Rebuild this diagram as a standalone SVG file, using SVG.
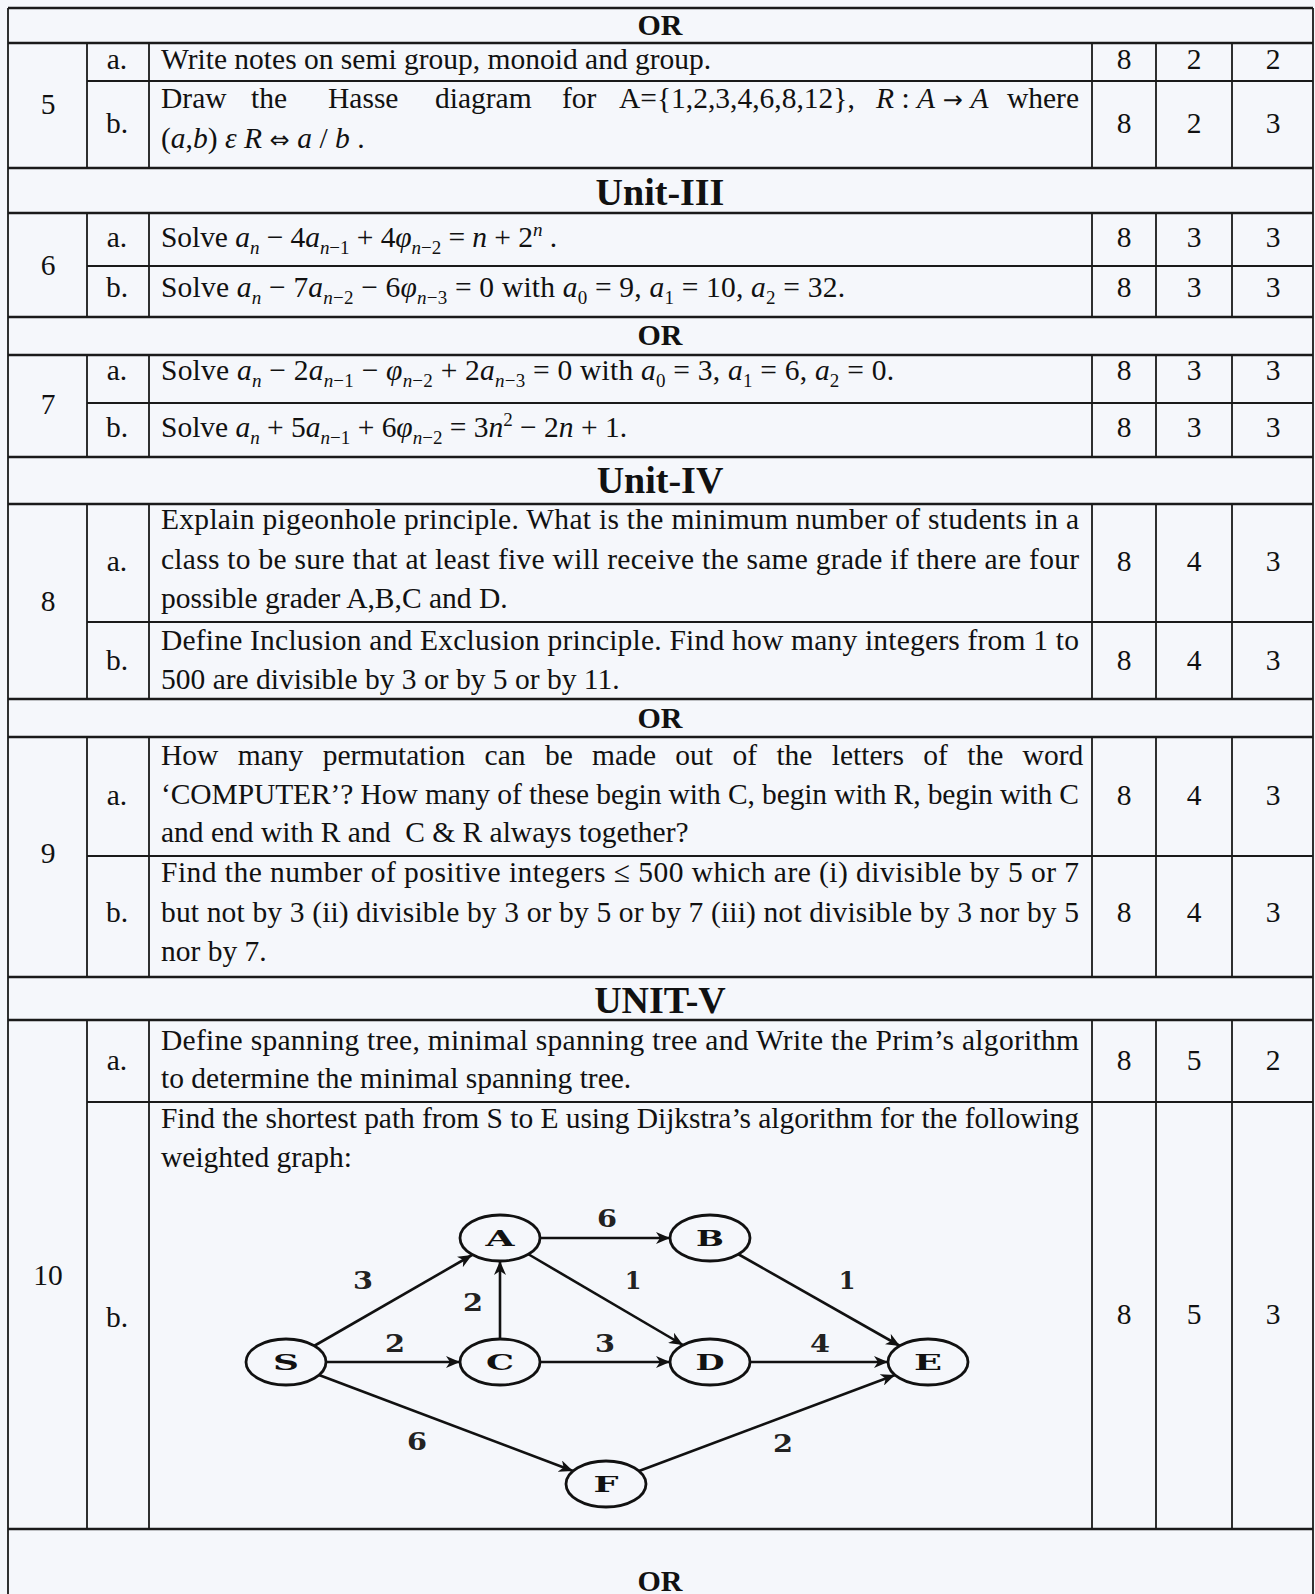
<svg xmlns="http://www.w3.org/2000/svg" width="1315" height="1594" viewBox="0 0 1315 1594">
<defs>
<style>
.t{font-family:"Liberation Serif","DejaVu Serif",serif;font-size:29.5px;fill:#111}
.i{font-style:italic}
.s{font-size:19px}
.ar{font-family:"DejaVu Sans",sans-serif;font-size:24px}
.c{text-anchor:middle}
.h{font-family:"Liberation Serif","DejaVu Serif",serif;font-weight:bold;font-size:38px;text-anchor:middle;fill:#111}
.or{font-family:"Liberation Serif","DejaVu Serif",serif;font-weight:bold;font-size:30px;text-anchor:middle;fill:#111}
.hl{stroke:#1a1a1a;stroke-width:2.6}
.pl{stroke:#1a1a1a;stroke-width:2.2}
.vl{stroke:#1a1a1a;stroke-width:1.8}
.nd{fill:none;stroke:#111;stroke-width:2.8}
.nl{font-family:"DejaVu Serif",serif;font-weight:bold;font-size:22px;text-anchor:middle;fill:#111}
.el{font-family:"DejaVu Serif",serif;font-weight:bold;font-size:24px;text-anchor:middle;fill:#222}
.e{stroke:#111;stroke-width:2.6;fill:none;marker-end:url(#arr)}
</style>
<marker id="arr" markerUnits="userSpaceOnUse" markerWidth="16" markerHeight="12" refX="14" refY="6" orient="auto">
<path d="M0,0 L14,6 L0,12 L4,6 Z" fill="#111"/>
</marker>
</defs>
<rect x="0" y="0" width="1315" height="1594" fill="#f5f7fb"/>

<g id="grid">
<line class="vl" x1="8" y1="8" x2="8" y2="1594"/>
<line class="vl" x1="1313" y1="8" x2="1313" y2="1594"/>
<line class="hl" x1="8" y1="8" x2="1313" y2="8"/>
<line class="hl" x1="8" y1="43" x2="1313" y2="43"/>
<line class="hl" x1="8" y1="168" x2="1313" y2="168"/>
<line class="hl" x1="8" y1="213" x2="1313" y2="213"/>
<line class="hl" x1="8" y1="317" x2="1313" y2="317"/>
<line class="hl" x1="8" y1="355" x2="1313" y2="355"/>
<line class="hl" x1="8" y1="457" x2="1313" y2="457"/>
<line class="hl" x1="8" y1="504" x2="1313" y2="504"/>
<line class="hl" x1="8" y1="699" x2="1313" y2="699"/>
<line class="hl" x1="8" y1="737" x2="1313" y2="737"/>
<line class="hl" x1="8" y1="977" x2="1313" y2="977"/>
<line class="hl" x1="8" y1="1020" x2="1313" y2="1020"/>
<line class="hl" x1="8" y1="1529" x2="1313" y2="1529"/>
<line class="pl" x1="87" y1="81" x2="1313" y2="81"/>
<line class="pl" x1="87" y1="266" x2="1313" y2="266"/>
<line class="pl" x1="87" y1="403" x2="1313" y2="403"/>
<line class="pl" x1="87" y1="622" x2="1313" y2="622"/>
<line class="pl" x1="87" y1="856" x2="1313" y2="856"/>
<line class="pl" x1="87" y1="1102" x2="1313" y2="1102"/>
<g id="cols">
<path class="vl" d="M87,43V168M149,43V168M1092,43V168M1156,43V168M1232,43V168"/>
<path class="vl" d="M87,213V317M149,213V317M1092,213V317M1156,213V317M1232,213V317"/>
<path class="vl" d="M87,355V457M149,355V457M1092,355V457M1156,355V457M1232,355V457"/>
<path class="vl" d="M87,504V699M149,504V699M1092,504V699M1156,504V699M1232,504V699"/>
<path class="vl" d="M87,737V977M149,737V977M1092,737V977M1156,737V977M1232,737V977"/>
<path class="vl" d="M87,1020V1529M149,1020V1529M1092,1020V1529M1156,1020V1529M1232,1020V1529"/>
</g>
</g>

<g id="headings">
<text class="or" x="660" y="35">OR</text>
<text class="h" x="660" y="205">Unit-III</text>
<text class="or" x="660" y="345">OR</text>
<text class="h" x="660" y="493">Unit-IV</text>
<text class="or" x="660" y="728">OR</text>
<text class="h" x="660" y="1013">UNIT-V</text>
<text class="or" x="660" y="1591">OR</text>
</g>

<g id="q5">
<text class="t c" x="48" y="114">5</text>
<text class="t c" x="117" y="69">a.</text>
<text class="t c" x="117" y="133">b.</text>
<text class="t" x="161" y="69">Write notes on semi group, monoid and group.</text>
<text class="t" x="161" y="108">Draw</text>
<text class="t" x="251" y="108">the</text>
<text class="t" x="328" y="108">Hasse</text>
<text class="t" x="435" y="108">diagram</text>
<text class="t" x="562" y="108">for</text>
<text class="t" x="619" y="108">A={1,2,3,4,6,8,12},</text>
<text class="t" x="876" y="108"><tspan class="i">R</tspan> : <tspan class="i">A</tspan><tspan class="ar"> → </tspan><tspan class="i">A</tspan></text>
<text class="t" x="1079" y="108" text-anchor="end">where</text>
<text class="t" x="161" y="148">(<tspan class="i">a</tspan>,<tspan class="i">b</tspan>) <tspan class="i">ε</tspan> <tspan class="i">R</tspan><tspan class="ar"> ⇔ </tspan><tspan class="i">a</tspan> / <tspan class="i">b</tspan> .</text>
<text class="t c" x="1124" y="69">8</text><text class="t c" x="1194" y="69">2</text><text class="t c" x="1273" y="69">2</text>
<text class="t c" x="1124" y="133">8</text><text class="t c" x="1194" y="133">2</text><text class="t c" x="1273" y="133">3</text>
</g>

<g id="q6">
<text class="t c" x="48" y="275">6</text>
<text class="t c" x="117" y="247">a.</text>
<text class="t c" x="117" y="297">b.</text>
<text class="t" x="161" y="247" textLength="396" lengthAdjust="spacing">Solve <tspan class="i">a</tspan><tspan class="s i" dy="7">n</tspan><tspan dy="-7"> − 4</tspan><tspan class="i">a</tspan><tspan class="s" dy="7"><tspan class="i">n</tspan>−1</tspan><tspan dy="-7"> + 4</tspan><tspan class="i">φ</tspan><tspan class="s" dy="7"><tspan class="i">n</tspan>−2</tspan><tspan dy="-7"> = </tspan><tspan class="i">n</tspan> + 2<tspan class="s i" dy="-11">n</tspan><tspan dy="11"> .</tspan></text>
<text class="t" x="161" y="297" textLength="684" lengthAdjust="spacing">Solve <tspan class="i">a</tspan><tspan class="s i" dy="7">n</tspan><tspan dy="-7"> − 7</tspan><tspan class="i">a</tspan><tspan class="s" dy="7"><tspan class="i">n</tspan>−2</tspan><tspan dy="-7"> − 6</tspan><tspan class="i">φ</tspan><tspan class="s" dy="7"><tspan class="i">n</tspan>−3</tspan><tspan dy="-7"> = 0 with </tspan><tspan class="i">a</tspan><tspan class="s" dy="7">0</tspan><tspan dy="-7"> = 9, </tspan><tspan class="i">a</tspan><tspan class="s" dy="7">1</tspan><tspan dy="-7"> = 10, </tspan><tspan class="i">a</tspan><tspan class="s" dy="7">2</tspan><tspan dy="-7"> = 32.</tspan></text>
<text class="t c" x="1124" y="247">8</text><text class="t c" x="1194" y="247">3</text><text class="t c" x="1273" y="247">3</text>
<text class="t c" x="1124" y="297">8</text><text class="t c" x="1194" y="297">3</text><text class="t c" x="1273" y="297">3</text>
</g>

<g id="q7">
<text class="t c" x="48" y="414">7</text>
<text class="t c" x="117" y="380">a.</text>
<text class="t c" x="117" y="437">b.</text>
<text class="t" x="161" y="380" textLength="733" lengthAdjust="spacing">Solve <tspan class="i">a</tspan><tspan class="s i" dy="7">n</tspan><tspan dy="-7"> − 2</tspan><tspan class="i">a</tspan><tspan class="s" dy="7"><tspan class="i">n</tspan>−1</tspan><tspan dy="-7"> − </tspan><tspan class="i">φ</tspan><tspan class="s" dy="7"><tspan class="i">n</tspan>−2</tspan><tspan dy="-7"> + 2</tspan><tspan class="i">a</tspan><tspan class="s" dy="7"><tspan class="i">n</tspan>−3</tspan><tspan dy="-7"> = 0 with </tspan><tspan class="i">a</tspan><tspan class="s" dy="7">0</tspan><tspan dy="-7"> = 3, </tspan><tspan class="i">a</tspan><tspan class="s" dy="7">1</tspan><tspan dy="-7"> = 6, </tspan><tspan class="i">a</tspan><tspan class="s" dy="7">2</tspan><tspan dy="-7"> = 0.</tspan></text>
<text class="t" x="161" y="437" textLength="466" lengthAdjust="spacing">Solve <tspan class="i">a</tspan><tspan class="s i" dy="7">n</tspan><tspan dy="-7"> + 5</tspan><tspan class="i">a</tspan><tspan class="s" dy="7"><tspan class="i">n</tspan>−1</tspan><tspan dy="-7"> + 6</tspan><tspan class="i">φ</tspan><tspan class="s" dy="7"><tspan class="i">n</tspan>−2</tspan><tspan dy="-7"> = 3</tspan><tspan class="i">n</tspan><tspan class="s" dy="-11">2</tspan><tspan dy="11"> − 2</tspan><tspan class="i">n</tspan> + 1.</text>
<text class="t c" x="1124" y="380">8</text><text class="t c" x="1194" y="380">3</text><text class="t c" x="1273" y="380">3</text>
<text class="t c" x="1124" y="437">8</text><text class="t c" x="1194" y="437">3</text><text class="t c" x="1273" y="437">3</text>
</g>

<g id="q8">
<text class="t c" x="48" y="611">8</text>
<text class="t c" x="117" y="571">a.</text>
<text class="t c" x="117" y="670">b.</text>
<text class="t" x="161" y="529" textLength="918" lengthAdjust="spacing">Explain pigeonhole principle. What is the minimum number of students in a</text>
<text class="t" x="161" y="569" textLength="918" lengthAdjust="spacing">class to be sure that at least five will receive the same grade if there are four</text>
<text class="t" x="161" y="608">possible grader A,B,C and D.</text>
<text class="t" x="161" y="650" textLength="918" lengthAdjust="spacing">Define Inclusion and Exclusion principle. Find how many integers from 1 to</text>
<text class="t" x="161" y="689">500 are divisible by 3 or by 5 or by 11.</text>
<text class="t c" x="1124" y="571">8</text><text class="t c" x="1194" y="571">4</text><text class="t c" x="1273" y="571">3</text>
<text class="t c" x="1124" y="670">8</text><text class="t c" x="1194" y="670">4</text><text class="t c" x="1273" y="670">3</text>
</g>

<g id="q9">
<text class="t c" x="48" y="863">9</text>
<text class="t c" x="117" y="805">a.</text>
<text class="t c" x="117" y="922">b.</text>
<text class="t" x="161" y="765" word-spacing="12">How many permutation can be made out of the letters of the word</text>
<text class="t" x="161" y="804" textLength="918" lengthAdjust="spacing">‘COMPUTER’? How many of these begin with C, begin with R, begin with C</text>
<text class="t" x="161" y="842">and end with R and &#160;C &amp; R always together?</text>
<text class="t" x="161" y="882" textLength="918" lengthAdjust="spacing">Find the number of positive integers ≤ 500 which are (i) divisible by 5 or 7</text>
<text class="t" x="161" y="922" textLength="918" lengthAdjust="spacing">but not by 3 (ii) divisible by 3 or by 5 or by 7 (iii) not divisible by 3 nor by 5</text>
<text class="t" x="161" y="961">nor by 7.</text>
<text class="t c" x="1124" y="805">8</text><text class="t c" x="1194" y="805">4</text><text class="t c" x="1273" y="805">3</text>
<text class="t c" x="1124" y="922">8</text><text class="t c" x="1194" y="922">4</text><text class="t c" x="1273" y="922">3</text>
</g>

<g id="q10">
<text class="t c" x="48" y="1285">10</text>
<text class="t c" x="117" y="1070">a.</text>
<text class="t c" x="117" y="1327">b.</text>
<text class="t" x="161" y="1050" textLength="918" lengthAdjust="spacing">Define spanning tree, minimal spanning tree and Write the Prim’s algorithm</text>
<text class="t" x="161" y="1088">to determine the minimal spanning tree.</text>
<text class="t" x="161" y="1128" textLength="918" lengthAdjust="spacing">Find the shortest path from S to E using Dijkstra’s algorithm for the following</text>
<text class="t" x="161" y="1167">weighted graph:</text>
<text class="t c" x="1124" y="1070">8</text><text class="t c" x="1194" y="1070">5</text><text class="t c" x="1273" y="1070">2</text>
<text class="t c" x="1124" y="1324">8</text><text class="t c" x="1194" y="1324">5</text><text class="t c" x="1273" y="1324">3</text>
</g>

<g id="connectors">
<line class="e" x1="314" y1="1346" x2="472" y2="1255"/>
<line class="e" x1="326" y1="1362" x2="460" y2="1362"/>
<line class="e" x1="500" y1="1339" x2="500" y2="1261"/>
<line class="e" x1="540" y1="1238" x2="670" y2="1238"/>
<line class="e" x1="528" y1="1254" x2="683" y2="1345"/>
<line class="e" x1="540" y1="1362" x2="670" y2="1362"/>
<line class="e" x1="738" y1="1254" x2="900" y2="1346"/>
<line class="e" x1="750" y1="1362" x2="888" y2="1362"/>
<line class="e" x1="319" y1="1375" x2="573" y2="1471"/>
<line class="e" x1="639" y1="1471" x2="895" y2="1375"/>
<text class="el" x="363" y="1289" textLength="20" lengthAdjust="spacingAndGlyphs">3</text>
<text class="el" x="395" y="1352" textLength="20" lengthAdjust="spacingAndGlyphs">2</text>
<text class="el" x="473" y="1311" textLength="20" lengthAdjust="spacingAndGlyphs">2</text>
<text class="el" x="607" y="1227" textLength="20" lengthAdjust="spacingAndGlyphs">6</text>
<text class="el" x="633" y="1289">1</text>
<text class="el" x="605" y="1352" textLength="20" lengthAdjust="spacingAndGlyphs">3</text>
<text class="el" x="847" y="1289">1</text>
<text class="el" x="820" y="1352" textLength="20" lengthAdjust="spacingAndGlyphs">4</text>
<text class="el" x="417" y="1450" textLength="20" lengthAdjust="spacingAndGlyphs">6</text>
<text class="el" x="783" y="1452" textLength="20" lengthAdjust="spacingAndGlyphs">2</text>
</g>

<g id="node-S"><ellipse class="nd" cx="286" cy="1362" rx="40" ry="23"/><text class="nl" x="286" y="1370" textLength="26" lengthAdjust="spacingAndGlyphs">S</text></g>
<g id="node-A"><ellipse class="nd" cx="500" cy="1238" rx="40" ry="23"/><text class="nl" x="500" y="1246" textLength="29" lengthAdjust="spacingAndGlyphs">A</text></g>
<g id="node-B"><ellipse class="nd" cx="710" cy="1238" rx="40" ry="23"/><text class="nl" x="710" y="1246" textLength="28" lengthAdjust="spacingAndGlyphs">B</text></g>
<g id="node-C"><ellipse class="nd" cx="500" cy="1362" rx="40" ry="23"/><text class="nl" x="500" y="1370" textLength="28" lengthAdjust="spacingAndGlyphs">C</text></g>
<g id="node-D"><ellipse class="nd" cx="710" cy="1362" rx="40" ry="23"/><text class="nl" x="710" y="1370" textLength="29" lengthAdjust="spacingAndGlyphs">D</text></g>
<g id="node-E"><ellipse class="nd" cx="928" cy="1362" rx="40" ry="23"/><text class="nl" x="928" y="1370" textLength="28" lengthAdjust="spacingAndGlyphs">E</text></g>
<g id="node-F"><ellipse class="nd" cx="606" cy="1484" rx="40" ry="23"/><text class="nl" x="606" y="1492" textLength="25" lengthAdjust="spacingAndGlyphs">F</text></g>
</svg>
